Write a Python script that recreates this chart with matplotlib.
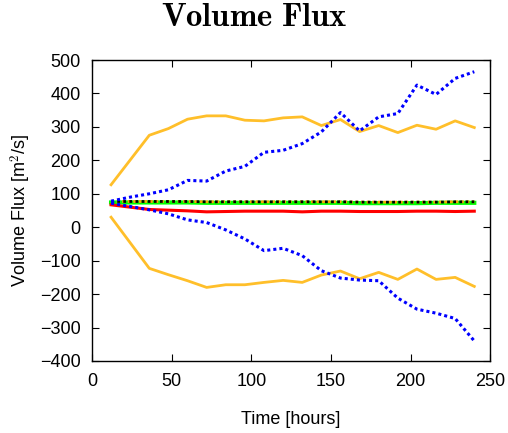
import matplotlib
matplotlib.use("Agg")
import matplotlib.pyplot as plt

plt.rcParams["font.family"] = ["Liberation Sans", "DejaVu Sans"]
plt.rcParams["mathtext.fontset"] = "cm"

# time axis (hours)
hours = [12, 24, 36, 48, 60, 72, 84, 96, 108, 120, 132, 144, 156, 168, 180, 192, 204, 216, 228, 240]
hours_env = [12, 36, 48, 60, 72, 84, 96, 108, 120, 132, 144, 156, 168, 180, 192, 204, 216, 228, 240]

# envelope (yellow)
env_upper = [127, 275, 295, 323, 333, 333, 320, 318, 327, 330, 304, 322, 286, 304, 283, 305, 293, 318, 298]
env_lower = [30, -123, -142, -160, -180, -172, -172, -165, -159, -165, -143, -131, -154, -135, -156, -125, -156, -150, -177]

# spread (blue dotted)
spread_upper = [78, 90, 100, 112, 140, 138, 168, 182, 224, 230, 250, 285, 343, 288, 330, 340, 425, 397, 445, 465]
spread_lower = [72, 62, 52, 40, 22, 14, -8, -35, -70, -63, -85, -130, -152, -158, -160, -212, -245, -257, -273, -340]

# central estimates
mean_flux = [74, 74, 74, 74, 74, 73, 73, 73, 73, 73, 73, 73, 73, 72, 72, 72, 72, 73, 73, 73]
ref_flux = [77, 77, 77, 77, 77, 76, 76, 76, 76, 76, 76, 76, 76, 75, 75, 75, 75, 75, 76, 76]
red_flux = [67, 60, 53, 51, 49, 46, 47, 48, 48, 48, 46, 48, 48, 47, 47, 47, 48, 48, 47, 48]

fig = plt.figure(figsize=(5.08, 4.33), dpi=100)
ax = fig.add_axes([0.181, 0.1663, 0.784, 0.6951])

yellow = "#ffbf2a"
ax.plot(hours_env, env_upper, color=yellow, lw=2.0)
ax.plot(hours_env, env_lower, color=yellow, lw=2.0)
ax.plot(hours, mean_flux, color="#00ff00", lw=3.0)
ax.plot(hours, red_flux, color="#ff0000", lw=2.2)
ax.plot(hours, ref_flux, color="orange", lw=2.0, ls=(0, (1, 1)))
ax.plot(hours, ref_flux, color="black", lw=2.0, ls=(0, (1, 1.2)))
ax.plot(hours, spread_upper, color="#0000ff", lw=2.2, ls=(0, (1, 1)))
ax.plot(hours, spread_lower, color="#0000ff", lw=2.2, ls=(0, (1, 1)))

ax.set_xlim(0, 250)
ax.set_ylim(-400, 500)
ax.set_xticks(range(0, 251, 50))
ax.set_yticks(range(-400, 501, 100))
ax.tick_params(direction="in", top=True, right=True, length=5, labelsize=13)
ax.tick_params(axis="y", pad=8)
ax.tick_params(axis="x", pad=9)
for s in ax.spines.values():
    s.set_linewidth(1.0)

ax.set_xlabel("Time [hours]", fontsize=13, labelpad=15)
ax.set_ylabel("Volume Flux [m$^2$/s]", fontsize=13, labelpad=5)
fig.text(0.5, 1 - 26 / 433, r"$\mathbf{Volume\ Flux}$", fontsize=23.5,
         ha="center", va="baseline")

fig.savefig("out.png", dpi=100)
